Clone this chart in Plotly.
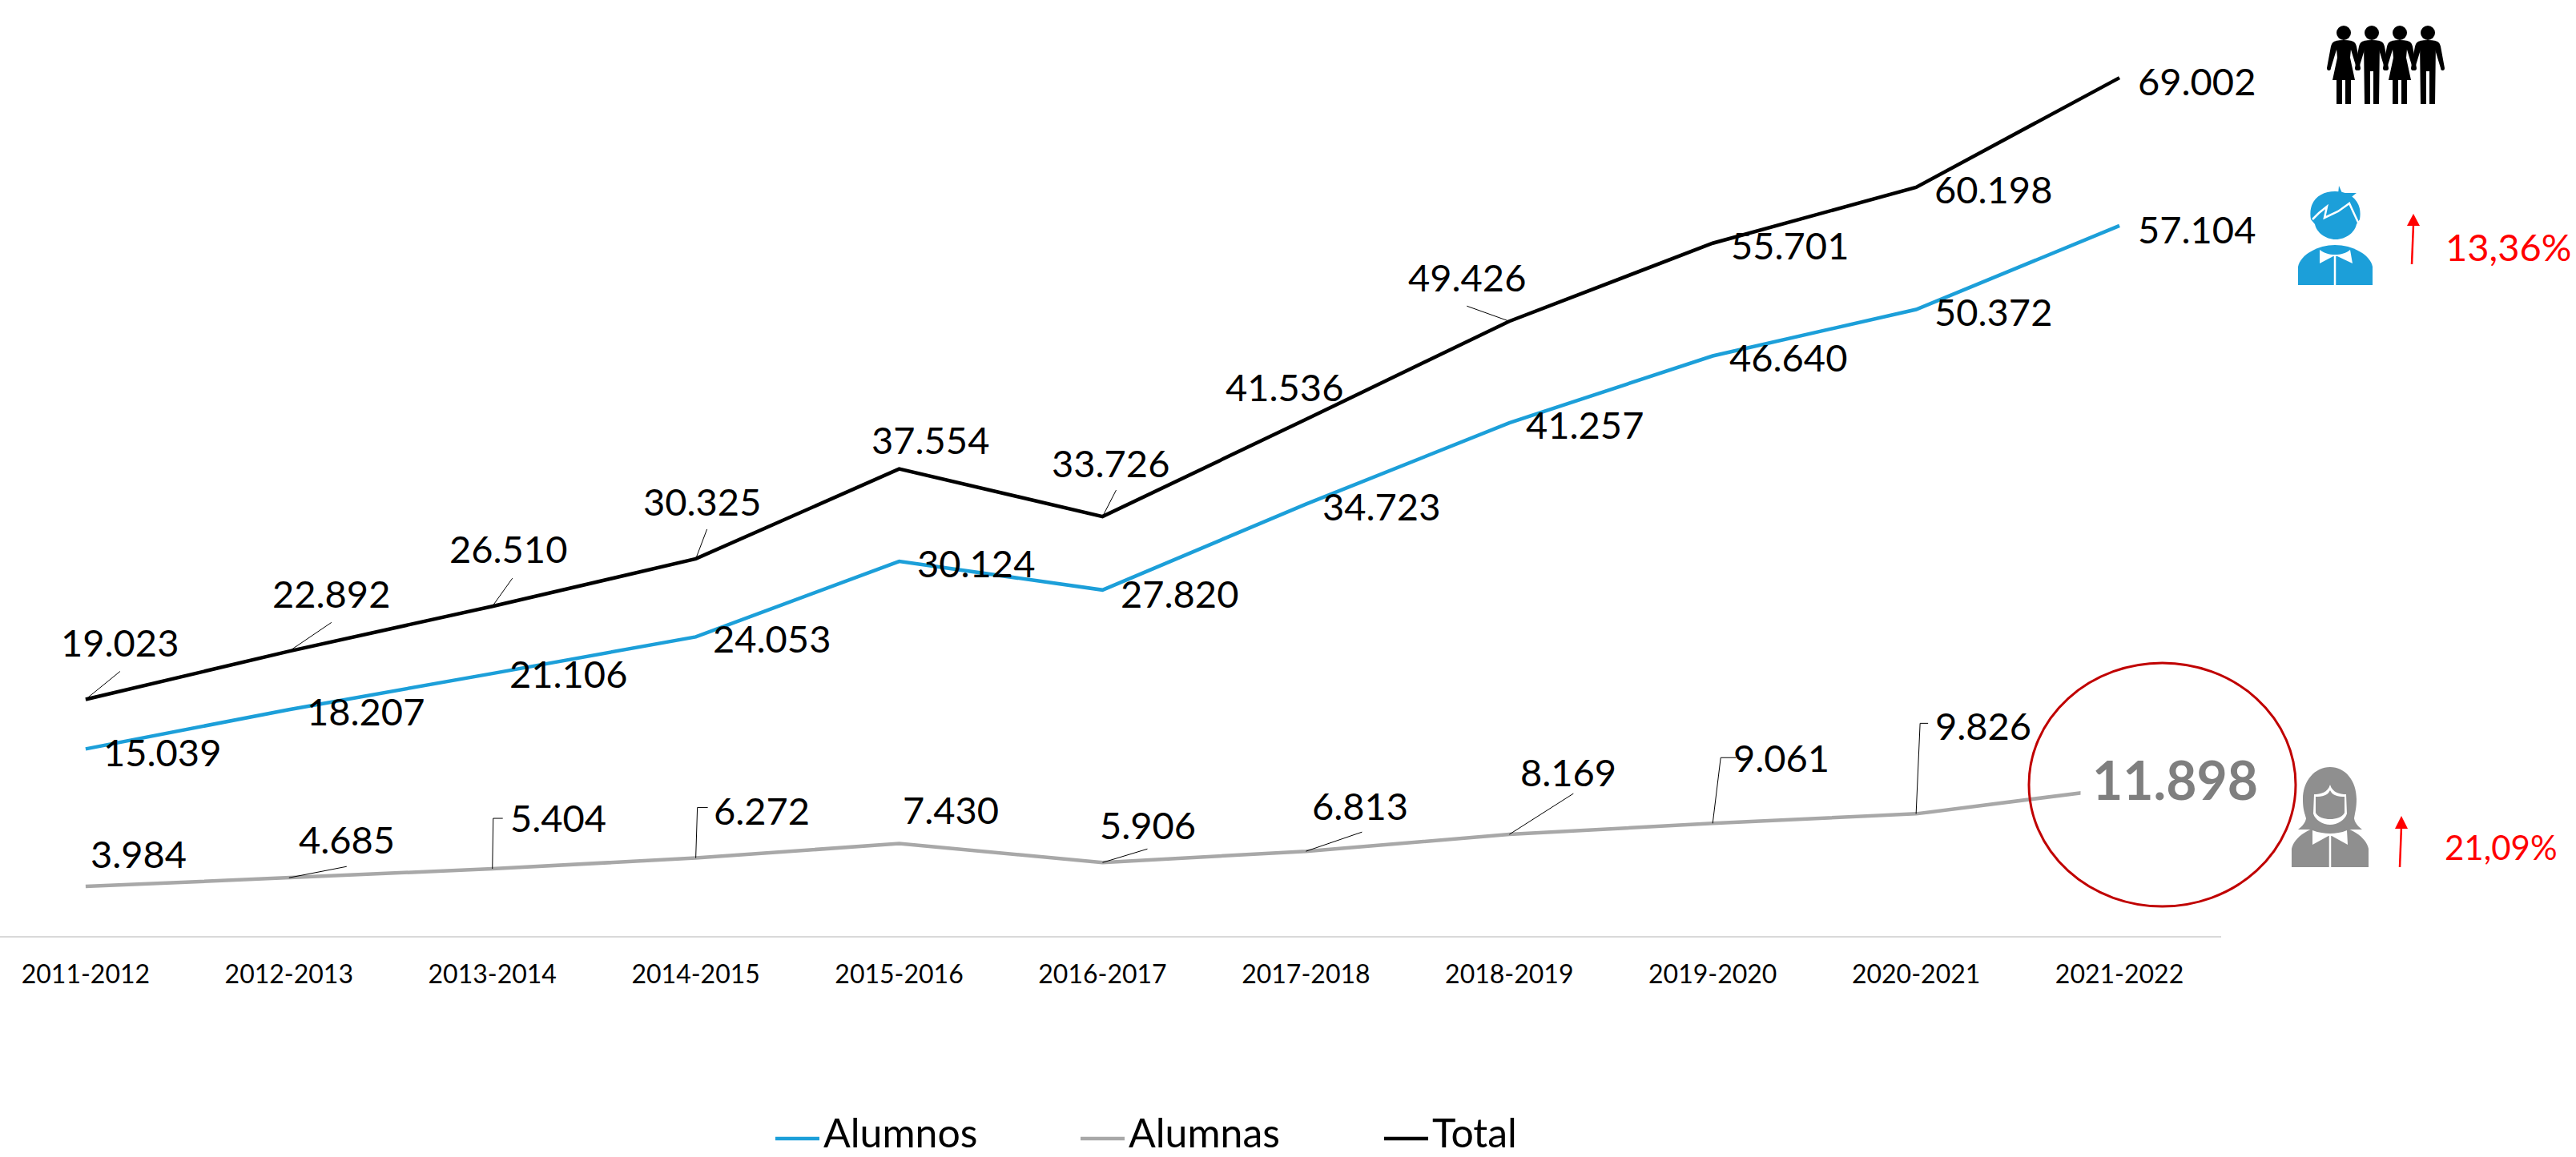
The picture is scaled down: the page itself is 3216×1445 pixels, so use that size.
import plotly.graph_objects as go

# ---------- data ----------
cursos = ["2011-2012","2012-2013","2013-2014","2014-2015","2015-2016","2016-2017",
          "2017-2018","2018-2019","2019-2020","2020-2021","2021-2022"]
alumnos = [15039,18207,21106,24053,30124,27820,34723,41257,46640,50372,57104]
alumnas = [3984,4685,5404,6272,7430,5906,6813,8169,9061,9826,11898]
total = [19023,22892,26510,30325,37554,33726,41536,49426,55701,60198,69002]

# ---------- style / layout ----------
W, H = 3216, 1445
PLOT_R, AXIS_Y = 2773, 1169
BLUE, GREY, DARKGREY, RED = "#1C9FD9", "#A8A8A8", "#7F7F7F", "#FF0000"
FONT = "Lato"
YMAX = AXIS_Y / 0.015534

off_total = [(43,-72),(53,-72),(20,-72),(8,-72),(39,-37),(10,-67),(-27,-41),(-53,-55),(96,2),(96,2),(96,4)]
off_alumnos = [(96,4),(96,2),(95,0),(95,2),(96,2),(96,4),(94,2),(94,2),(94,2),(96,2),(96,4)]
off_alumnas = [(66,-41),(72,-48),(82,-64),(82,-60),(64,-43),(57,-47),(68,-57),(74,-78),(86,-82),(84,-110),(69,-11)]

leaders_total = {0:[(43,-35)],1:[(53,-36)],2:[(25,-35)],3:[(14,-37)],5:[(17,-33)],7:[(-53,-19)]}
leaders_alumnas = {1:[(72,-14)],2:[(1,-63),(13,-63)],3:[(2,-63),(15,-63)],5:[(56,-17)],6:[(70,-24)],
                   7:[(80,-51)],8:[(10,-82),(29,-82)],9:[(5,-113),(15,-113)]}

legend_entries = [("Alumnos", BLUE, 968), ("Alumnas", GREY, 1349), ("Total", "#000000", 1728)]
LEGEND_LINE_Y, LEGEND_TEXT_Y = 1422, 1414

OFFX = 0


def fmt(v):
    return f"{v:,}".replace(",", ".")


def px(x):
    return x / PLOT_R


def py(y):
    return (AXIS_Y - y) / AXIS_Y


def P(s):
    """Pixel path (absolute page pixels) to paper coordinates."""
    out, is_x = [], True
    for tok in s.split():
        if tok.isalpha():
            out.append(tok)
            is_x = True
        else:
            out.append(f"{px(float(tok) + OFFX):.5f}" if is_x else f"{py(float(tok)):.5f}")
            is_x = not is_x
    return " ".join(out)


shapes = []


def fill(s, color):
    shapes.append(dict(type="path", xref="paper", yref="paper", path=P(s), fillcolor=color,
                       line=dict(width=0), layer="above"))


def stroke(s, color, w):
    shapes.append(dict(type="path", xref="paper", yref="paper", path=P(s), line=dict(color=color, width=w),
                       layer="above"))


def oval(x0, y0, x1, y1, color, line_color=None, w=0):
    shapes.append(dict(type="circle", xref="paper", yref="paper", x0=px(x0), x1=px(x1), y0=py(y1), y1=py(y0),
                       fillcolor=color, line=dict(width=w, color=line_color or "rgba(0,0,0,0)"), layer="above"))


# ---------- figure ----------
fig = go.Figure()
for name, vals, col in [("Alumnos", alumnos, BLUE), ("Alumnas", alumnas, GREY), ("Total", total, "#000000")]:
    fig.add_trace(go.Scatter(x=cursos, y=vals, name=name, mode="lines", line=dict(color=col, width=4.5)))

annotations = []
for vals, offs in [(total, off_total), (alumnos, off_alumnos), (alumnas, off_alumnas)]:
    for i, v in enumerate(vals):
        last_grey = vals is alumnas and i == 10
        a = dict(x=cursos[i], y=v, xref="x", yref="y", text=fmt(v), showarrow=False,
                 xshift=offs[i][0], yshift=-offs[i][1], xanchor="center", yanchor="middle",
                 font=dict(family=FONT, size=47, color="black"))
        if last_grey:
            a.update(text=f"<b>{fmt(v)}</b>", font=dict(family=FONT, size=66, color=DARKGREY),
                     bgcolor="white", borderpad=14)
        annotations.append(a)

for vals, leaders in [(total, leaders_total), (alumnas, leaders_alumnas)]:
    for i, pts in leaders.items():
        path = "M 0 0 " + " ".join(f"L {dx} {-dy}" for dx, dy in pts)
        shapes.append(dict(type="path", xref="x", yref="y", xsizemode="pixel", ysizemode="pixel",
                           xanchor=cursos[i], yanchor=vals[i], path=path, line=dict(color="black", width=1)))

# legend, drawn so that its text box stays inside the page
for name, col, x0 in legend_entries:
    stroke(f"M {x0} {LEGEND_LINE_Y} L {x0 + 55} {LEGEND_LINE_Y}", col, 4.5)
    annotations.append(dict(x=px(x0 + 60), y=py(LEGEND_TEXT_Y), xref="paper", yref="paper", text=name, showarrow=False,
                            xanchor="left", yanchor="middle", borderpad=0, borderwidth=0,
                            font=dict(family=FONT, size=50, color="black")))

# red ellipse
oval(2533, 828, 2866, 1132, "rgba(0,0,0,0)", "#C00000", 3)

# red arrows and percentages
stroke("M 2996 1083 L 2998 1032", RED, 2.5)
fill("M 2998 1019 L 3006 1035 L 2990 1035 Z", RED)
OFFX = -5
stroke("M 3016 330 L 3018 280", RED, 2.5)
fill("M 3018 267 L 3026 282 L 3010 282 Z", RED)
annotations.append(dict(x=px(3131), y=py(308), xref="paper", yref="paper", text="13,36%", showarrow=False,
                        xanchor="center", yanchor="middle", font=dict(family=FONT, size=47, color=RED)))
annotations.append(dict(x=px(3123), y=py(1058), xref="paper", yref="paper", text="21,09%", showarrow=False,
                        xanchor="center", yanchor="middle", font=dict(family=FONT, size=42, color=RED)))


# group icon
def arms(c):
    fill(f"M {c-9} 51 Q {c-15} 52 {c-16} 58 L {c-21} 85 Q {c-21} 88 {c-18.5} 88 Q {c-16} 88 {c-16} 85 L {c-9} 62 Z", "black")
    fill(f"M {c+9} 51 Q {c+15} 52 {c+16} 58 L {c+21} 85 Q {c+21} 88 {c+18.5} 88 Q {c+16} 88 {c+16} 85 L {c+9} 62 Z", "black")


def woman(c):
    oval(c-9, 32, c+9, 50, "black")
    arms(c)
    fill(f"M {c-10} 51 Q {c} 49 {c+10} 51 L {c+8} 72 L {c+14} 100 L {c-14} 100 L {c-8} 72 Z", "black")
    fill(f"M {c-9} 100 L {c-2} 100 L {c-2} 130 L {c-9} 130 Z", "black")
    fill(f"M {c+2} 100 L {c+9} 100 L {c+9} 130 L {c+2} 130 Z", "black")


def man(c):
    oval(c-9, 32, c+9, 50, "black")
    arms(c)
    fill(f"M {c-10} 51 Q {c} 49 {c+10} 51 L {c+9} 130 L {c+2} 130 L {c+2} 89 L {c-2} 89 L {c-2} 130 L {c-9} 130 Z", "black")


OFFX = 0
woman(2926); man(2961); woman(2996); man(3031)

# boy icon
OFFX = -3
fill("M 2888 274 C 2884 250 2900 239 2918 239 C 2936 239 2953 250 2949 274 L 2945 280 C 2943 290 2932 299 2919 299 "
     "C 2906 299 2895 290 2893 280 Z", BLUE)
fill("M 2923 232 L 2927 241 L 2945 241 L 2935 249 L 2922 243 Z", BLUE)
stroke("M 2890 274 L 2898 266 L 2908 258 L 2905 272 L 2922 264 L 2936 254 L 2948 280", "white", 2.5)
fill("M 2872 356 L 2872 333 C 2875 318 2897 306 2918 306 C 2940 306 2962 318 2965 333 L 2965 356 Z", BLUE)
fill("M 2899 312 C 2905 316 2910 318 2918 318 C 2926 318 2932 316 2937 312 L 2940 329 L 2921 320 L 2916 320 L 2899 329 Z", "white")
stroke("M 2918 320 L 2918 356", "white", 2.5)
OFFX = 0

# girl icon
GIRL = "#8F8F8F"
fill("M 2909 958 C 2928 958 2942 975 2942 998 C 2942 1010 2940 1015 2939 1022 C 2940 1028 2944 1032 2949 1036 "
     "L 2930 1036 L 2888 1036 L 2869 1036 C 2874 1032 2878 1028 2879 1022 C 2877 1015 2875 1010 2875 998 "
     "C 2875 975 2890 958 2909 958 Z", GIRL)
fill("M 2889 992 C 2897 992 2906 990 2909 980 C 2912 990 2921 992 2929 992 L 2930 1016 C 2928 1024 2918 1030 2909 1030 "
     "C 2900 1030 2890 1024 2888 1016 Z", "white")
fill("M 2891 995 C 2899 995 2906 994 2909 987 C 2912 994 2919 995 2927 995 L 2927 1015 C 2925 1020 2917 1023 2909 1023 "
     "C 2901 1023 2893 1020 2891 1015 Z", GIRL)
fill("M 2861 1083 L 2861 1060 C 2864 1045 2885 1031 2909 1031 C 2933 1031 2954 1045 2957 1060 L 2957 1083 Z", GIRL)
fill("M 2887 1037 C 2895 1040 2902 1041 2909 1041 C 2916 1041 2923 1040 2930 1037 L 2931 1055 L 2911 1044 L 2907 1044 L 2887 1055 Z", "white")
stroke("M 2909 1044 L 2909 1083", "white", 2.5)

fig.update_layout(
    width=W, height=H, autosize=False,
    margin=dict(l=0, r=W - PLOT_R, t=0, b=H - AXIS_Y, pad=0),
    paper_bgcolor="white", plot_bgcolor="white",
    font=dict(family=FONT, color="black"),
    xaxis=dict(type="category", categoryorder="array", categoryarray=cursos, range=[-0.421, 10.5],
               showgrid=False, zeroline=False, showline=True, linecolor="#D9D9D9", linewidth=2,
               ticks="", tickfont=dict(family=FONT, size=32, color="black"), ticklabelstandoff=19, automargin=False),
    yaxis=dict(range=[0, YMAX], visible=False, showgrid=False, zeroline=False),
    showlegend=False,
    annotations=annotations, shapes=shapes,
)
fig.write_html("out.html", config=dict(displayModeBar=False),
               post_script="document.body.style.margin='0';document.documentElement.style.overflow='hidden';")
